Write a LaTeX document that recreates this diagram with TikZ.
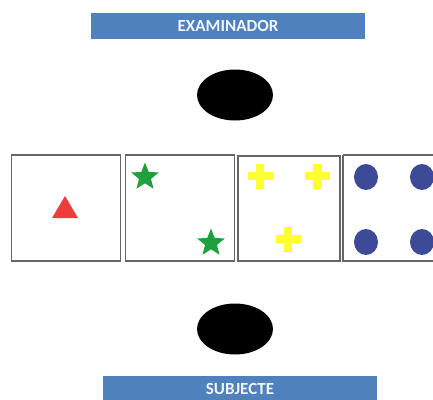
\documentclass[tikz,border=0pt]{standalone}
\usepackage{fontspec}
\setmainfont{Carlito}
\usetikzlibrary{shapes.geometric}
\definecolor{barblue}{HTML}{4F81BD}
\definecolor{tri}{HTML}{EE3B3B}
\definecolor{stargreen}{HTML}{1FA03C}
\definecolor{crossy}{HTML}{FFFF33}
\definecolor{dotblue}{HTML}{3D4A98}
\tikzset{
  bar/.style={fill=barblue, text=white!92!barblue, font=\bfseries\fontsize{17}{19}\selectfont, minimum width=274pt, minimum height=26pt, inner sep=0pt},
  blob/.style={ellipse, fill=black, minimum width=76pt, minimum height=51pt, inner sep=0pt},
  card/.style={draw=black!60, line width=1.1pt, minimum width=109pt, minimum height=106pt, inner sep=0pt},
  starshape/.style={star, star points=5, star point ratio=2.3, fill=stargreen, minimum size=29pt, inner sep=0pt},
  dot/.style={ellipse, fill=dotblue, minimum width=24pt, minimum height=26pt, inner sep=0pt},
}
\newcommand{\plusat}[2]{\fill[crossy] (#1-12.5,#2-4) rectangle (#1+12.5,#2+4); \fill[crossy] (#1-4,#2-12.5) rectangle (#1+4,#2+12.5);}
\begin{document}
\begin{tikzpicture}[x=1pt,y=-1pt]
\useasboundingbox (0,0) rectangle (433,399);
\node[bar] (exam) at (228,26) {EXAMINADOR};
\node[blob] (top) at (235,95) {};
\node[card] (c1) at (66,208) {};
\node[card] (c2) at (180,208) {};
\node[card, minimum width=102pt, minimum height=105pt] (c3) at (289,208.5) {};
\begin{scope}
\clip (0,0) rectangle (433,399);
\draw[draw=black!60, line width=1.1pt] (343,155) -- (440,155) (343,155) -- (343,261) -- (440,261);
\node[coordinate] (c4) at (395,208) {};
\node[dot] (d1) at (366,177) {};
\node[dot] (d2) at (422,177) {};
\node[dot] (d3) at (366,242) {};
\node[dot] (d4) at (422,242) {};
\end{scope}
\fill[tri] (52,218) -- (78,218) -- (65,196) -- cycle;
\node[starshape] (s1) at (145,177) {};
\node[starshape] (s2) at (211,243) {};
\plusat{260}{176}
\plusat{317}{176}
\plusat{288}{239}
\node[blob] (bot) at (235,329) {};
\node[bar] (subj) at (240,389) {SUBJECTE};
\end{tikzpicture}
\end{document}
